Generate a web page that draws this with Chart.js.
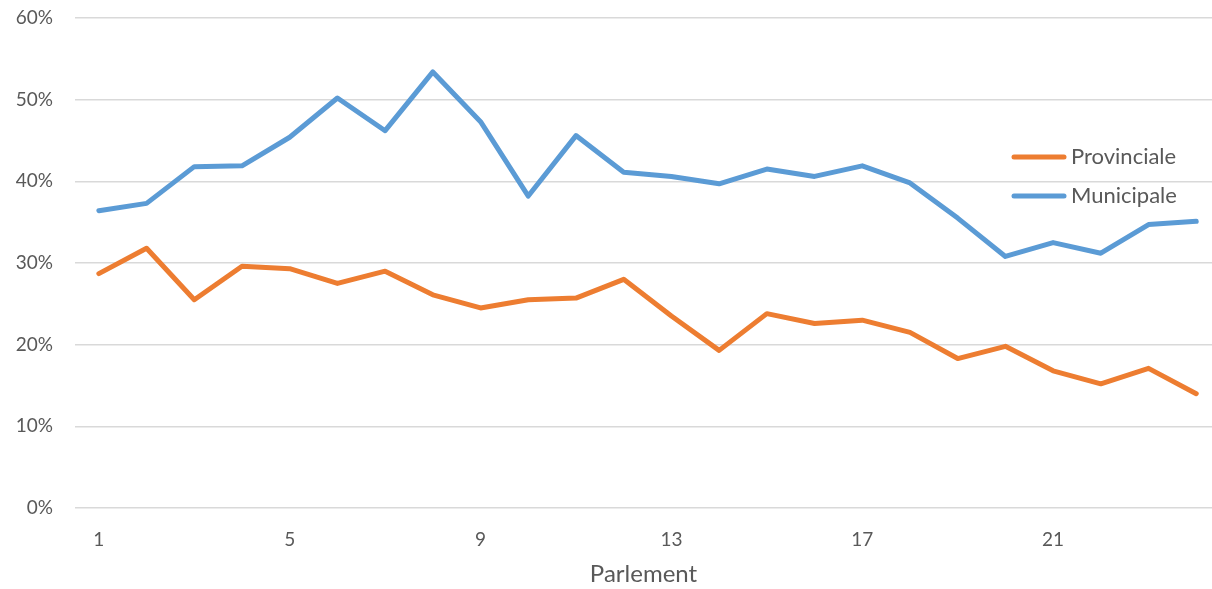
<!DOCTYPE html>
<html>
<head>
<meta charset="utf-8">
<script src="https://cdn.jsdelivr.net/npm/chart.js@4/dist/chart.umd.min.js"></script>
<style>
  html, body { margin: 0; padding: 0; background: #fff; overflow: hidden; }
  #wrap { width: 1212px; height: 589px; position: relative; }
</style>
</head>
<body>
<div id="wrap"><canvas id="lineChart"></canvas></div>
<script>
const parlements = [1, 2, 3, 4, 5, 6, 7, 8, 9, 10, 11, 12, 13, 14, 15, 16, 17, 18, 19, 20, 21, 22, 23, 24];
const provinciale = [28.7, 31.8, 25.5, 29.6, 29.3, 27.5, 29.0, 26.1, 24.5, 25.5, 25.7, 28.0, 23.5, 19.3, 23.8, 22.6, 23.0, 21.5, 18.3, 19.8, 16.8, 15.2, 17.1, 14.0];
const municipale = [36.4, 37.3, 41.8, 41.9, 45.4, 50.2, 46.2, 53.4, 47.3, 38.2, 45.6, 41.1, 40.6, 39.7, 41.5, 40.6, 41.9, 39.8, 35.5, 30.8, 32.5, 31.2, 34.7, 35.1];
const xTicks = [1, 5, 9, 13, 17, 21];
const yTicks = [0, 10, 20, 30, 40, 50, 60];

const textColor = '#595959';
const fontFamily = 'Lato, "Open Sans", sans-serif';

function toPoints(values) {
    return values.map(function(v, i) { return { x: parlements[i], y: v }; });
}

// legend drawn inside the plot, like the original
const insideLegend = {
    id: 'insideLegend',
    afterDraw(chart) {
        const ctx = chart.ctx;
        const x0 = 1014, x1 = 1064;
        let y = 157;
        ctx.save();
        chart.data.datasets.forEach(function(ds) {
            ctx.strokeStyle = ds.borderColor;
            ctx.lineWidth = 5;
            ctx.lineCap = 'round';
            ctx.beginPath();
            ctx.moveTo(x0, y);
            ctx.lineTo(x1, y);
            ctx.stroke();
            ctx.fillStyle = textColor;
            ctx.font = '22px ' + fontFamily;
            ctx.textBaseline = 'middle';
            ctx.fillText(ds.label, x1 + 7, y);
            y += 39;
        });
        ctx.restore();
    }
};

const ctx = document.getElementById('lineChart').getContext('2d');
const lineChart = new Chart(ctx, {
    type: 'line',
    data: {
        datasets: [
            {
                label: 'Provinciale',
                data: toPoints(provinciale),
                borderColor: '#ED7D31',
                borderWidth: 5,
                borderCapStyle: 'round',
                borderJoinStyle: 'round',
                pointRadius: 0,
                tension: 0
            },
            {
                label: 'Municipale',
                data: toPoints(municipale),
                borderColor: '#5B9BD5',
                borderWidth: 5,
                borderCapStyle: 'round',
                borderJoinStyle: 'round',
                pointRadius: 0,
                tension: 0
            }
        ]
    },
    options: {
        responsive: true,
        maintainAspectRatio: false,
        animation: false,
        layout: { padding: { left: 0, right: 0, top: 18, bottom: 0 } },
        plugins: {
            legend: { display: false },
            tooltip: { enabled: false }
        },
        scales: {
            x: {
                type: 'linear',
                min: 0.5,
                max: 24.33,
                afterBuildTicks: function(axis) {
                    axis.ticks = xTicks.map(function(v) { return { value: v }; });
                },
                afterFit: function(axis) {
                    axis.height = 81;
                    axis.paddingTop = 0;
                    axis.paddingBottom = 0;
                },
                grid: { display: false, drawTicks: false },
                border: { display: false },
                ticks: {
                    autoSkip: false,
                    maxRotation: 0,
                    padding: 20,
                    color: textColor,
                    font: { family: fontFamily, size: 19 }
                },
                title: {
                    display: true,
                    text: 'Parlement',
                    color: textColor,
                    font: { family: fontFamily, size: 24 },
                    padding: { top: 0, bottom: 0 }
                }
            },
            y: {
                min: 0,
                max: 60,
                afterBuildTicks: function(axis) {
                    axis.ticks = yTicks.map(function(v) { return { value: v }; });
                },
                afterFit: function(axis) {
                    axis.width = 75;
                    axis.paddingTop = 0;
                    axis.paddingBottom = 0;
                },
                grid: { color: '#D9D9D9', lineWidth: 1.5, drawTicks: false },
                border: { display: false },
                ticks: {
                    padding: 22,
                    color: textColor,
                    font: { family: fontFamily, size: 19 },
                    callback: function(v) { return v + '%'; }
                }
            }
        }
    },
    plugins: [insideLegend]
});
</script>
</body>
</html>
